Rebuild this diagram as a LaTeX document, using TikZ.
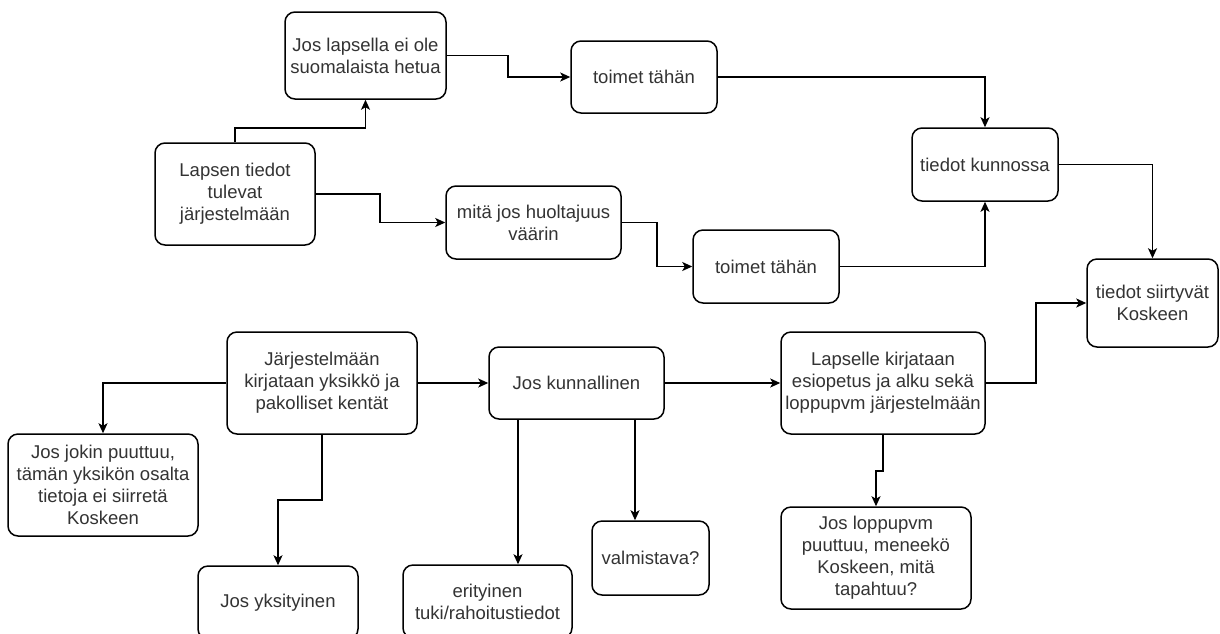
\documentclass[tikz,border=0pt]{standalone}
\usepackage{fontspec}
\setmainfont{Liberation Sans}
\usetikzlibrary{arrows.meta,calc}
\definecolor{txt}{HTML}{333333}
\tikzset{
  box/.style={draw=black, line width=1.5pt, rounded corners=10pt, fill=white,
    align=center, text=txt, inner xsep=2pt, inner ysep=2pt,
    font=\fontsize{18.5}{22}\selectfont},
  arr/.style={draw=black, line width=1.5pt,
    -{Stealth[length=10pt,width=9pt,inset=2.5pt]}}
}
\begin{document}
\begin{tikzpicture}[x=1pt,y=-1pt]
\useasboundingbox (0,0) rectangle (1220,633);
\clip (0,0) rectangle (1220,633);
\fill[white] (0,0) rectangle (1220,633);

% upper part: incoming data and corrections
\node[box, minimum width=161pt, minimum height=87pt]  (hetu)   at (365.5,55.5) {Jos lapsella ei ole\\suomalaista hetua};
\node[box, minimum width=146pt, minimum height=72pt]  (toimA)  at (644,77)     {toimet tähän};
\node[box, minimum width=160pt, minimum height=102pt] (tulo)   at (235,194)    {Lapsen tiedot\\tulevat\\järjestelmään};
\node[box, minimum width=146pt, minimum height=73pt]  (kunnos) at (985,164.5)  {tiedot kunnossa};
\node[box, minimum width=175pt, minimum height=73pt]  (huolt)  at (533.5,222.5){mitä jos huoltajuus\\väärin};
\node[box, minimum width=146pt, minimum height=73pt]  (toimB)  at (766,266.5)  {toimet tähän};
\node[box, minimum width=131pt, minimum height=88pt]  (koski)  at (1152.5,303) {tiedot siirtyvät\\Koskeen};

% lower part: recording the unit and dates
\node[box, minimum width=190pt, minimum height=102pt] (yks)    at (322,383)    {Järjestelmään\\kirjataan yksikkö ja\\pakolliset kentät};
\node[box, minimum width=175pt, minimum height=72pt]  (kunn)   at (576.5,383)  {Jos kunnallinen};
\node[box, minimum width=204pt, minimum height=102pt] (esiop)  at (883,383)    {Lapselle kirjataan\\esiopetus ja alku sekä\\loppupvm järjestelmään};
\node[box, minimum width=190pt, minimum height=102pt] (puuttuu) at (103,485)   {Jos jokin puuttuu,\\tämän yksikön osalta\\tietoja ei siirretä\\Koskeen};
\node[box, minimum width=160pt, minimum height=73pt]  (yksit)  at (278,602.5)  {Jos yksityinen};
\node[box, minimum width=169pt, minimum height=73pt]  (erit)   at (487.5,601.5){erityinen\\tuki/rahoitustiedot};
\node[box, minimum width=117pt, minimum height=74pt]  (valm)   at (650.5,558)  {valmistava?};
\node[box, minimum width=190pt, minimum height=102pt] (loppu)  at (876,558)    {Jos loppupvm\\puuttuu, meneekö\\Koskeen, mitä\\tapahtuu?};

% connectors, upper part
\draw[arr] (tulo.north) -- (tulo.north |- 0,128) -| (hetu.south);
\draw[arr] (tulo.east) -- (380,194) |- (huolt.west);
\draw[arr] (hetu.east) -- (508,55.5) |- (toimA.west);
\draw[arr] (toimA.east) -| (kunnos.north);
\draw[arr] (huolt.east) -- (657,222.5) |- (toimB.west);
\draw[arr] (toimB.east) -| (kunnos.south);
\draw[arr] (kunnos.east) -| (koski.north);

% connectors, lower part
\draw[arr] (yks.east) -- (kunn.west);
\draw[arr] (kunn.east) -- (esiop.west);
\draw[arr] (esiop.east) -- (1036,383) |- (koski.west);
\draw[arr] (yks.west) -| (puuttuu.north);
\draw[arr] (yks.south) -- (322,500) -| (yksit.north);
\draw[arr] (kunn.south -| 518,0) -- (erit.north -| 518,0);
\draw[arr] (kunn.south -| 635,0) -- (valm.north -| 635,0);
\draw[arr] (esiop.south) -- (883,471) -| (loppu.north);
\end{tikzpicture}
\end{document}
